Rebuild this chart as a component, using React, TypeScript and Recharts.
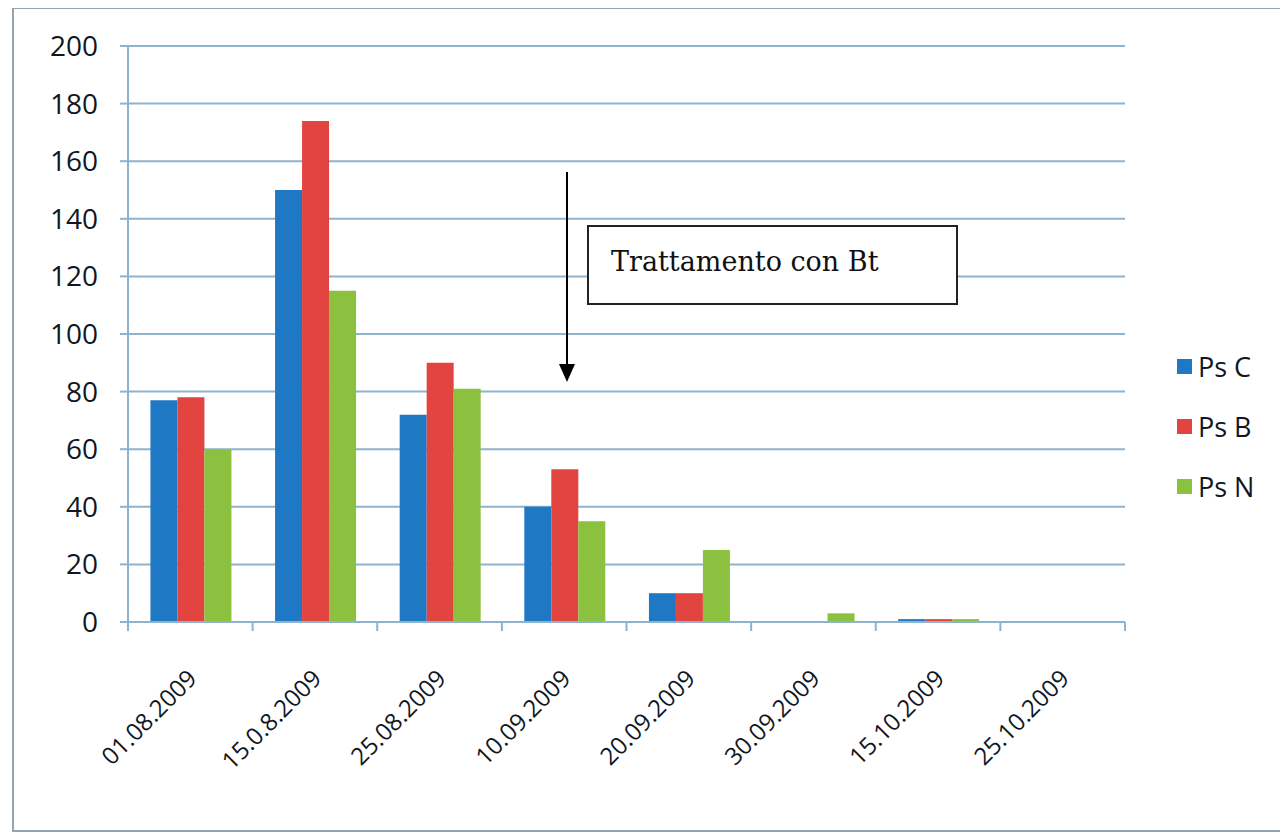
import React from "react";
import { BarChart, Bar, XAxis, YAxis, CartesianGrid } from "recharts";

const dates = [
  "01.08.2009",
  "15.0.8.2009",
  "25.08.2009",
  "10.09.2009",
  "20.09.2009",
  "30.09.2009",
  "15.10.2009",
  "25.10.2009",
];
const psC = [77, 150, 72, 40, 10, 0, 1, 0];
const psB = [78, 174, 90, 53, 10, 0, 1, 0];
const psN = [60, 115, 81, 35, 25, 3, 1, 0];
const yTicks = [0, 20, 40, 60, 80, 100, 120, 140, 160, 180, 200];

const seriesNames = ["Ps C", "Ps B", "Ps N"];
const seriesColors = ["#1f78c4", "#e2443f", "#8cc03f"];
const annotation = "Trattamento con Bt";

const data = dates.map((d, i) => ({
  date: d,
  c: psC[i],
  b: psB[i],
  n: psN[i],
}));

const gridColor = "#8fb3cd";
const textColor = "#10171f";
const font = "'Open Sans', sans-serif";

function DateTick(props: any) {
  const { x, y, payload, index } = props;
  const half = payload.offset || (1125 - 128) / dates.length / 2;
  return (
    <g>
      <line x1={x - half} x2={x - half} y1={y} y2={y + 9} stroke={gridColor} strokeWidth={2} />
      {index === dates.length - 1 && (
        <line x1={x + half} x2={x + half} y1={y} y2={y + 9} stroke={gridColor} strokeWidth={2} />
      )}
      <text
        transform={`translate(${x + 8},${y + 58}) rotate(-45)`}
        textAnchor="end"
        fontSize={24}
        fontFamily={font}
        fill={textColor}
      >
        {payload.value}
      </text>
    </g>
  );
}

export default function App() {
  return (
    <div
      style={{
        position: "relative",
        margin: "-8px 0 0 -8px",
        width: 1288,
        height: 834,
        background: "#fff",
      }}
    >
      <div
        style={{
          position: "absolute",
          left: 12,
          top: 7,
          width: 1273,
          height: 825,
          border: "2px solid #94a3ad",
          boxSizing: "border-box",
        }}
      />
      <div style={{ position: "absolute", left: 0, top: 0 }}>
        <BarChart
          width={1288}
          height={834}
          data={data}
          margin={{ top: 46, right: 163, left: 28, bottom: 32 }}
          barCategoryGap="18%"
          barGap={0}
        >
          <CartesianGrid vertical={false} stroke={gridColor} strokeWidth={2} />
          <XAxis
            dataKey="date"
            height={180}
            tickSize={0}
            tickMargin={0}
            interval={0}
            axisLine={{ stroke: gridColor, strokeWidth: 2 }}
            tick={<DateTick />}
          />
          <YAxis
            width={100}
            domain={[0, 200]}
            ticks={yTicks}
            interval={0}
            tickSize={8}
            tickMargin={22}
            axisLine={{ stroke: gridColor, strokeWidth: 2 }}
            tickLine={{ stroke: gridColor, strokeWidth: 2 }}
            tick={{ fontSize: 28, fontFamily: font, fill: textColor }}
          />
          <Bar dataKey="c" name={seriesNames[0]} fill={seriesColors[0]} isAnimationActive={false} />
          <Bar dataKey="b" name={seriesNames[1]} fill={seriesColors[1]} isAnimationActive={false} />
          <Bar dataKey="n" name={seriesNames[2]} fill={seriesColors[2]} isAnimationActive={false} />
        </BarChart>
      </div>

      {/* treatment arrow and note */}
      <svg
        style={{ position: "absolute", left: 0, top: 0, pointerEvents: "none" }}
        width={1288}
        height={834}
      >
        <line x1={567} y1={172} x2={567} y2={370} stroke="#000" strokeWidth={2} />
        <path d="M559,364 L575,364 L567,382 Z" fill="#000" />
        <rect x={588} y={226} width={369} height={78} fill="#fff" stroke="#222" strokeWidth={2} />
        <text x={611} y={271} fontSize={27} fontFamily="'DejaVu Serif', serif" fill="#111">
          {annotation}
        </text>
      </svg>

      {/* legend */}
      <div style={{ position: "absolute", left: 1177, top: 346, fontFamily: font, fontSize: 27 }}>
        {seriesNames.map((name, i) => (
          <div
            key={name}
            style={{ display: "flex", alignItems: "center", height: 40, marginBottom: i < 2 ? 20 : 0 }}
          >
            <span
              style={{
                width: 15,
                height: 15,
                background: seriesColors[i],
                display: "inline-block",
                marginRight: 6,
              }}
            />
            <span style={{ color: textColor }}>{name}</span>
          </div>
        ))}
      </div>
    </div>
  );
}
